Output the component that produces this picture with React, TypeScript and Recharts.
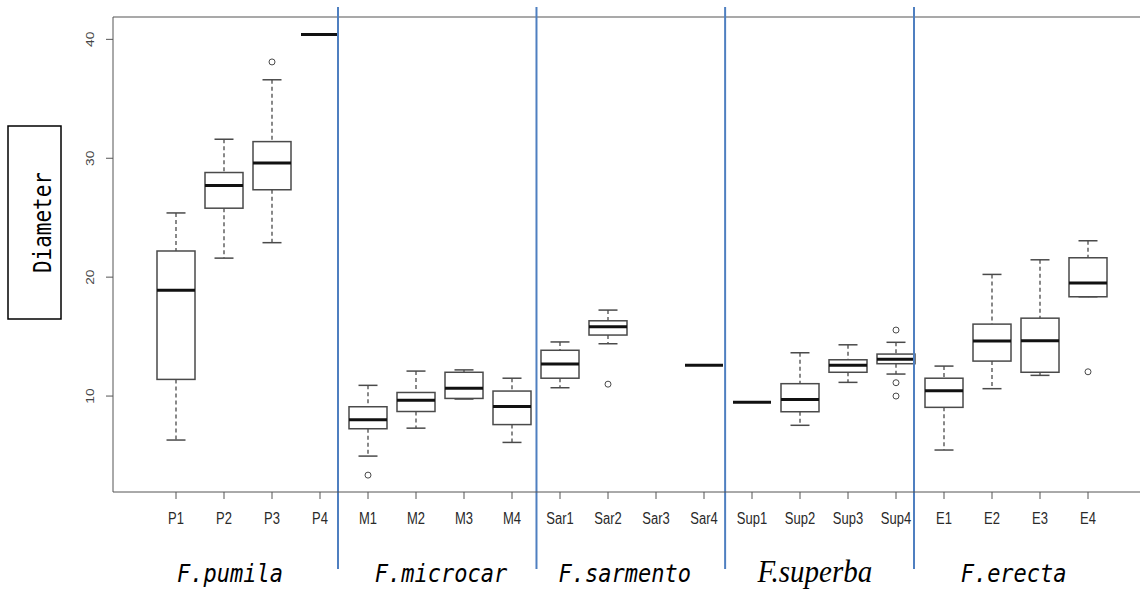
import React from "react";
import { ComposedChart, Bar, Scatter, XAxis, YAxis, ReferenceLine } from "recharts";

// sample names, left to right
const names = [
  "P1", "P2", "P3", "P4",
  "M1", "M2", "M3", "M4",
  "Sar1", "Sar2", "Sar3", "Sar4",
  "Sup1", "Sup2", "Sup3", "Sup4",
  "E1", "E2", "E3", "E4",
];

// five-number summaries (null = no data)
const whiskerLow = [6.3, 21.6, 22.9, 40.4, 4.95, 7.3, 9.75, 6.1, 10.7, 14.4, null, 12.58, 9.47, 7.54, 11.15, 11.85, 5.46, 10.62, 11.74, 18.35];
const boxLow = [11.4, 25.8, 27.35, 40.4, 7.25, 8.7, 9.8, 7.6, 11.5, 15.13, null, 12.58, 9.47, 8.68, 12.0, 12.72, 9.05, 12.94, 12.0, 18.35];
const medians = [18.9, 27.7, 29.6, 40.4, 8.0, 9.65, 10.65, 9.13, 12.7, 15.83, null, 12.58, 9.47, 9.72, 12.58, 13.09, 10.45, 14.63, 14.65, 19.5];
const boxHigh = [22.2, 28.8, 31.4, 40.4, 9.1, 10.3, 12.0, 10.42, 13.85, 16.33, null, 12.58, 9.47, 11.04, 13.05, 13.53, 11.5, 16.05, 16.55, 21.63];
const whiskerHigh = [25.4, 31.6, 36.6, 40.4, 10.9, 12.1, 12.2, 11.5, 14.55, 17.23, null, 12.58, 9.47, 13.64, 14.31, 14.52, 12.52, 20.23, 21.46, 23.06];

const outlierGroups = ["P3", "M1", "Sar2", "Sup4", "Sup4", "Sup4", "E4"];
const outlierValues = [38.1, 3.35, 11.0, 15.55, 11.12, 10.0, 12.04];

// species labels and where the blue separators sit (in sample-position units)
const speciesNames = ["F.pumila", "F.microcar", "F.sarmento", "F.superba", "F.erecta"];
const speciesCenters = [2.125, 6.52, 10.35, 14.31, 18.45];
const dividers = [4.375, 8.51, 12.44, 16.375];

const yTicks = [10, 20, 30, 40];
const Y_MIN = 1.93;
const Y_MAX = 41.88;
const X_MIN = -0.3125;
const X_MAX = 21.3125;

const data = names.map((name, i) => ({
  name,
  pos: i + 1,
  span: [Y_MIN, Y_MAX],
  lo: whiskerLow[i],
  q1: boxLow[i],
  med: medians[i],
  q3: boxHigh[i],
  hi: whiskerHigh[i],
}));

const outliers = outlierGroups.map((g, i) => ({
  pos: names.indexOf(g) + 1,
  value: outlierValues[i],
}));

const BOX = "#4a4a4a";

const BoxShape = (props: any) => {
  const { x, width, payload } = props;
  const y = Math.min(props.y, props.y + props.height);
  const height = Math.abs(props.height);
  if (payload.med == null) return <g />;
  const yOf = (v: number) => y + ((Y_MAX - v) / (Y_MAX - Y_MIN)) * height;
  const cx = x + width / 2;
  const cap = width / 4;
  if (payload.lo === payload.hi) {
    return (
      <line x1={x} x2={x + width} y1={yOf(payload.med)} y2={yOf(payload.med)} stroke="#111" strokeWidth={3} />
    );
  }
  return (
    <g>
      <line x1={cx} x2={cx} y1={yOf(payload.hi)} y2={yOf(payload.q3)} stroke={BOX} strokeWidth={1.3} strokeDasharray="4 3" />
      <line x1={cx} x2={cx} y1={yOf(payload.q1)} y2={yOf(payload.lo)} stroke={BOX} strokeWidth={1.3} strokeDasharray="4 3" />
      <line x1={cx - cap} x2={cx + cap} y1={yOf(payload.hi)} y2={yOf(payload.hi)} stroke={BOX} strokeWidth={1.5} />
      <line x1={cx - cap} x2={cx + cap} y1={yOf(payload.lo)} y2={yOf(payload.lo)} stroke={BOX} strokeWidth={1.5} />
      <rect
        x={x}
        y={yOf(payload.q3)}
        width={width}
        height={yOf(payload.q1) - yOf(payload.q3)}
        fill="#fff"
        stroke={BOX}
        strokeWidth={1.5}
      />
      <line x1={x} x2={x + width} y1={yOf(payload.med)} y2={yOf(payload.med)} stroke="#111" strokeWidth={3} />
    </g>
  );
};

const OutlierDot = (props: any) => (
  <circle cx={props.cx} cy={props.cy} r={3} fill="#fff" stroke={BOX} strokeWidth={1} />
);

const YTick = (props: any) => (
  <text
    transform={`translate(${props.x - 10},${props.y}) rotate(-90) scale(1.25,1)`}
    textAnchor="middle"
    fontSize={11}
    fill="#444"
    fontFamily="'Liberation Sans', Arial, sans-serif"
  >
    {props.payload.value}
  </text>
);

const XTick = (props: any) => (
  <text
    transform={`translate(${props.x},${props.y + 23}) scale(1,1.2)`}
    textAnchor="middle"
    fontSize={13}
    fill="#2a2a2a"
    fontFamily="'Liberation Sans', Arial, sans-serif"
  >
    {names[props.payload.value - 1]}
  </text>
);

const SpeciesTick = (props: any) => {
  const idx = speciesCenters.indexOf(props.payload.value);
  const label = speciesNames[idx];
  const serif = label === "F.superba";
  return (
    <text
      transform={`translate(${props.x},${props.y + 50}) scale(1,1.1)`}
      textAnchor="middle"
      fontSize={serif ? 29 : 22}
      fontStyle="italic"
      fill="#000"
      fontFamily={serif ? "'Liberation Serif', serif" : "'DejaVu Sans Mono', monospace"}
    >
      {label}
    </text>
  );
};

const DiameterBox = () => (
  <g>
    <rect x={8} y={126} width={53} height={193} fill="#fff" stroke="#000" strokeWidth={1.5} />
    <text
      transform="translate(51,222.5) rotate(-90)"
      textAnchor="middle"
      fontSize={25}
      fill="#000"
      fontFamily="'DejaVu Sans Mono', monospace"
      textLength={101}
      lengthAdjust="spacingAndGlyphs"
    >
      Diameter
    </text>
  </g>
);

const DividerLine = (props: any) => (
  <line x1={props.x1} x2={props.x2} y1={7} y2={569} stroke="#4f7fc0" strokeWidth={2} />
);

export default function App() {
  return (
    <div
      style={{
        position: "absolute",
        left: 0,
        top: 0,
        width: 1140,
        height: 589,
        overflow: "hidden",
        background: "#fff",
      }}
    >
      <ComposedChart
        width={1160}
        height={589}
        data={data}
        margin={{ top: 17, right: 9, bottom: 0, left: 0 }}
      >
        <XAxis
          dataKey="pos"
          type="number"
          domain={[X_MIN, X_MAX]}
          ticks={data.map((d) => d.pos)}
          interval={0}
          allowDataOverflow
          height={40}
          tickSize={7}
          stroke="#555"
          tick={<XTick />}
        />
        <XAxis
          xAxisId="grp"
          dataKey="pos"
          type="number"
          domain={[X_MIN, X_MAX]}
          ticks={speciesCenters}
          interval={0}
          allowDataOverflow
          height={57}
          tickSize={0}
          tickMargin={0}
          axisLine={false}
          tickLine={false}
          tick={<SpeciesTick />}
        />
        <YAxis
          type="number"
          domain={[Y_MIN, Y_MAX]}
          ticks={yTicks}
          allowDataOverflow
          width={113}
          tickSize={7}
          stroke="#555"
          tick={<YTick />}
          label={<DiameterBox />}
        />
        <ReferenceLine y={Y_MAX} stroke="#555" strokeWidth={1.2} />
        <Bar dataKey="span" barSize={38} fill="none" shape={<BoxShape />} isAnimationActive={false} />
        <Scatter data={outliers} dataKey="value" shape={<OutlierDot />} isAnimationActive={false} />
        {dividers.map((d) => (
          <ReferenceLine key={d} x={d} shape={<DividerLine />} />
        ))}
      </ComposedChart>
    </div>
  );
}
